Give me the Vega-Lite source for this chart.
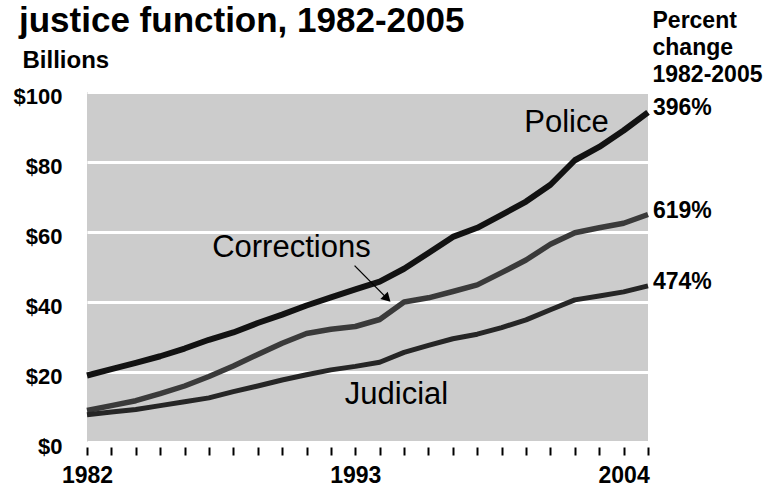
{
  "$schema": "https://vega.github.io/schema/vega-lite/v6.json",
  "width": 561,
  "height": 350,
  "autosize": {"type": "none"},
  "padding": {"left": 87, "top": 92, "right": 119, "bottom": 52},
  "background": "white",
  "config": {
    "view": {"fill": "#cccccc", "stroke": null},
    "font": "Liberation Sans"
  },
  "title": {
    "text": "justice function, 1982-2005",
    "anchor": "start",
    "frame": "group",
    "font": "Liberation Sans",
    "fontSize": 35,
    "fontWeight": "bold",
    "color": "black",
    "baseline": "alphabetic",
    "offset": 0,
    "dx": -68,
    "dy": 58
  },
  "datasets": {
    "spend": [
      {"year": 1982, "series": "Police", "value": 19.0},
      {"year": 1983, "series": "Police", "value": 20.8},
      {"year": 1984, "series": "Police", "value": 22.6},
      {"year": 1985, "series": "Police", "value": 24.5},
      {"year": 1986, "series": "Police", "value": 26.7},
      {"year": 1987, "series": "Police", "value": 29.2},
      {"year": 1988, "series": "Police", "value": 31.3},
      {"year": 1989, "series": "Police", "value": 34.0},
      {"year": 1990, "series": "Police", "value": 36.4},
      {"year": 1991, "series": "Police", "value": 39.0},
      {"year": 1992, "series": "Police", "value": 41.3},
      {"year": 1993, "series": "Police", "value": 43.6},
      {"year": 1994, "series": "Police", "value": 45.8},
      {"year": 1995, "series": "Police", "value": 49.5},
      {"year": 1996, "series": "Police", "value": 54.0},
      {"year": 1997, "series": "Police", "value": 58.6},
      {"year": 1998, "series": "Police", "value": 61.2},
      {"year": 1999, "series": "Police", "value": 64.9},
      {"year": 2000, "series": "Police", "value": 68.7},
      {"year": 2001, "series": "Police", "value": 73.5},
      {"year": 2002, "series": "Police", "value": 80.5},
      {"year": 2003, "series": "Police", "value": 84.3},
      {"year": 2004, "series": "Police", "value": 89.0},
      {"year": 2005, "series": "Police", "value": 94.2},
      {"year": 1982, "series": "Corrections", "value": 9.0},
      {"year": 1983, "series": "Corrections", "value": 10.4},
      {"year": 1984, "series": "Corrections", "value": 11.8},
      {"year": 1985, "series": "Corrections", "value": 13.8},
      {"year": 1986, "series": "Corrections", "value": 16.0},
      {"year": 1987, "series": "Corrections", "value": 18.7},
      {"year": 1988, "series": "Corrections", "value": 21.7},
      {"year": 1989, "series": "Corrections", "value": 25.0},
      {"year": 1990, "series": "Corrections", "value": 28.2},
      {"year": 1991, "series": "Corrections", "value": 31.0},
      {"year": 1992, "series": "Corrections", "value": 32.2},
      {"year": 1993, "series": "Corrections", "value": 33.0},
      {"year": 1994, "series": "Corrections", "value": 35.0},
      {"year": 1995, "series": "Corrections", "value": 40.0},
      {"year": 1996, "series": "Corrections", "value": 41.2},
      {"year": 1997, "series": "Corrections", "value": 43.0},
      {"year": 1998, "series": "Corrections", "value": 44.9},
      {"year": 1999, "series": "Corrections", "value": 48.4},
      {"year": 2000, "series": "Corrections", "value": 52.0},
      {"year": 2001, "series": "Corrections", "value": 56.5},
      {"year": 2002, "series": "Corrections", "value": 59.8},
      {"year": 2003, "series": "Corrections", "value": 61.2},
      {"year": 2004, "series": "Corrections", "value": 62.5},
      {"year": 2005, "series": "Corrections", "value": 65.0},
      {"year": 1982, "series": "Judicial", "value": 7.8},
      {"year": 1983, "series": "Judicial", "value": 8.6},
      {"year": 1984, "series": "Judicial", "value": 9.3},
      {"year": 1985, "series": "Judicial", "value": 10.4},
      {"year": 1986, "series": "Judicial", "value": 11.5},
      {"year": 1987, "series": "Judicial", "value": 12.6},
      {"year": 1988, "series": "Judicial", "value": 14.4},
      {"year": 1989, "series": "Judicial", "value": 16.0},
      {"year": 1990, "series": "Judicial", "value": 17.7},
      {"year": 1991, "series": "Judicial", "value": 19.2},
      {"year": 1992, "series": "Judicial", "value": 20.6},
      {"year": 1993, "series": "Judicial", "value": 21.6},
      {"year": 1994, "series": "Judicial", "value": 22.8},
      {"year": 1995, "series": "Judicial", "value": 25.6},
      {"year": 1996, "series": "Judicial", "value": 27.6},
      {"year": 1997, "series": "Judicial", "value": 29.5},
      {"year": 1998, "series": "Judicial", "value": 30.8},
      {"year": 1999, "series": "Judicial", "value": 32.7},
      {"year": 2000, "series": "Judicial", "value": 34.9},
      {"year": 2001, "series": "Judicial", "value": 37.8},
      {"year": 2002, "series": "Judicial", "value": 40.6},
      {"year": 2003, "series": "Judicial", "value": 41.7},
      {"year": 2004, "series": "Judicial", "value": 42.9},
      {"year": 2005, "series": "Judicial", "value": 44.6}
    ],
    "ends": [
      {"series": "Police", "year": 2005, "value": 94.2, "pct": "396%"},
      {"series": "Corrections", "year": 2005, "value": 65.0, "pct": "619%"},
      {"series": "Judicial", "year": 2005, "value": 44.6, "pct": "474%"}
    ],
    "names": [
      {"name": "Police", "year": 2001.66, "value": 88.7},
      {"name": "Corrections", "year": 1990.38, "value": 52.9},
      {"name": "Judicial", "year": 1994.69, "value": 11.0}
    ],
    "pointer": [
      {"year": 1992.97, "value": 50.4, "year2": 1994.31, "value2": 40.97}
    ],
    "pointerHead": [
      {"year": 1994.31, "value": 40.97}
    ]
  },
  "encoding": {
    "x": {
      "field": "year",
      "type": "quantitative",
      "scale": {"domain": [1982, 2005], "nice": false, "zero": false},
      "axis": {
        "values": [1982, 1983, 1984, 1985, 1986, 1987, 1988, 1989, 1990, 1991, 1992, 1993, 1994, 1995, 1996, 1997, 1998, 1999, 2000, 2001, 2002, 2003, 2004, 2005],
        "format": "d",
        "labelExpr": "indexof([1982, 1993, 2004], datum.value) >= 0 ? datum.label : ''",
        "labelOverlap": false,
        "labelFlush": false,
        "labelBound": false,
        "labelFont": "Liberation Sans",
        "labelFontSize": 23,
        "labelFontWeight": "bold",
        "labelColor": "black",
        "labelPadding": 9,
        "domain": false,
        "grid": false,
        "ticks": true,
        "tickColor": "black",
        "tickSize": 8,
        "tickWidth": 2,
        "offset": 5,
        "title": null
      }
    }
  },
  "layer": [
    {
      "data": {"name": "spend"},
      "mark": {"type": "line", "strokeCap": "butt", "strokeJoin": "round"},
      "encoding": {
        "y": {
          "field": "value",
          "type": "quantitative",
          "scale": {"domain": [0, 100], "nice": false},
          "axis": {
            "orient": "left",
            "values": [0, 20, 40, 60, 80, 100],
            "format": "$.0f",
            "labelFont": "Liberation Sans",
            "labelFontSize": 22,
            "labelFontWeight": "bold",
            "labelColor": "black",
            "labelPadding": 25,
            "labelOffset": 4,
            "domain": false,
            "ticks": false,
            "grid": true,
            "gridColor": "white",
            "gridWidth": 3,
            "gridOpacity": 1,
            "title": "Billions",
            "titleFont": "Liberation Sans",
            "titleFontSize": 24,
            "titleFontWeight": "bold",
            "titleColor": "black",
            "titleAngle": 0,
            "titleAlign": "left",
            "titleBaseline": "alphabetic",
            "titleX": -65,
            "titleY": -25
          }
        },
        "color": {
          "field": "series",
          "type": "nominal",
          "scale": {"domain": ["Police", "Corrections", "Judicial"], "range": ["#121212", "#3a3a3a", "#262626"]},
          "legend": null
        },
        "strokeWidth": {
          "field": "series",
          "type": "nominal",
          "scale": {"domain": ["Police", "Corrections", "Judicial"], "range": [6, 5, 5]},
          "legend": null
        }
      }
    },
    {
      "data": {"name": "ends"},
      "mark": {"type": "text", "align": "left", "baseline": "alphabetic", "dx": 5, "dy": 3, "font": "Liberation Sans", "fontSize": 23, "fontWeight": "bold", "color": "black"},
      "encoding": {
        "y": {
          "field": "value",
          "type": "quantitative",
          "axis": {
            "orient": "right",
            "labels": false,
            "ticks": false,
            "domain": false,
            "grid": false,
            "title": ["Percent", "change", "1982-2005"],
            "titleFont": "Liberation Sans",
            "titleFontSize": 23,
            "titleFontWeight": "bold",
            "titleColor": "black",
            "titleAngle": 0,
            "titleAlign": "left",
            "titleBaseline": "alphabetic",
            "titleLineHeight": 27,
            "titleX": 4,
            "titleY": -65
          }
        },
        "text": {"field": "pct", "type": "nominal"}
      }
    },
    {
      "data": {"name": "names"},
      "mark": {"type": "text", "align": "center", "baseline": "alphabetic", "font": "Liberation Sans", "fontSize": 31, "color": "black"},
      "encoding": {
        "y": {"field": "value", "type": "quantitative", "axis": null},
        "text": {"field": "name", "type": "nominal"}
      }
    },
    {
      "data": {"name": "pointer"},
      "mark": {"type": "rule", "color": "black", "strokeWidth": 1.3},
      "encoding": {
        "y": {"field": "value", "type": "quantitative", "axis": null},
        "x2": {"field": "year2"},
        "y2": {"field": "value2"}
      }
    },
    {
      "data": {"name": "pointerHead"},
      "mark": {"type": "point", "shape": "triangle-up", "filled": true, "color": "black", "opacity": 1, "size": 110, "angle": 135},
      "encoding": {
        "y": {"field": "value", "type": "quantitative", "axis": null}
      }
    }
  ],
  "resolve": {"axis": {"y": "independent"}}
}
